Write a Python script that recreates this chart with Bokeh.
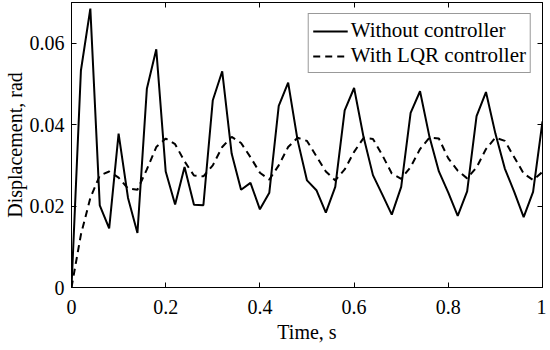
from bokeh.plotting import figure
from bokeh.models import LinearAxis, FixedTicker, NumeralTickFormatter, CustomJSTickFormatter, Range1d, Legend, LegendItem
from bokeh.embed import file_html
from bokeh.resources import INLINE

time_s = [round(0.02 * i, 2) for i in range(51)]
without_controller = [
    0.0, 0.0533, 0.0685, 0.0202, 0.0145, 0.0378, 0.0220, 0.0134, 0.0488, 0.0585,
    0.0285, 0.0204, 0.0296, 0.0203, 0.0202, 0.0460, 0.0531, 0.0329, 0.0240, 0.0257,
    0.0192, 0.0233, 0.0446, 0.0503, 0.0362, 0.0263, 0.0239, 0.0184, 0.0247, 0.0435,
    0.0490, 0.0370, 0.0276, 0.0228, 0.0179, 0.0247, 0.0429, 0.0482, 0.0370, 0.0285,
    0.0233, 0.0176, 0.0236, 0.0421, 0.0480, 0.0378, 0.0292, 0.0235, 0.0173, 0.0235,
    0.0408,
]
with_lqr = [
    0.0, 0.0130, 0.0220, 0.0275, 0.0285, 0.0270, 0.0243, 0.0240, 0.0290, 0.0345,
    0.0366, 0.0352, 0.0310, 0.0275, 0.0273, 0.0300, 0.0345, 0.0370, 0.0355, 0.0320,
    0.0282, 0.0265, 0.0300, 0.0345, 0.0368, 0.0360, 0.0322, 0.0285, 0.0263, 0.0290,
    0.0333, 0.0367, 0.0365, 0.0325, 0.0280, 0.0267, 0.0296, 0.0340, 0.0368, 0.0366,
    0.0317, 0.0287, 0.0268, 0.0295, 0.0340, 0.0368, 0.0360, 0.0320, 0.0280, 0.0264,
    0.0284,
]
x_ticks = [0, 0.2, 0.4, 0.6, 0.8, 1.0]
y_ticks = [0, 0.02, 0.04, 0.06]

FONT = "Liberation Serif"
FS = "20px"

p = figure(frame_width=471, frame_height=285, output_backend="svg", toolbar_location=None,
           x_range=Range1d(0, 1), y_range=Range1d(0, 0.07),
           x_axis_type=None, y_axis_type=None,
           min_border_left=0, min_border_right=4, min_border_top=2, min_border_bottom=0)
p.background_fill_color = "white"
p.border_fill_color = "white"
p.outline_line_color = "black"
p.outline_line_width = 1
p.xgrid.visible = False
p.ygrid.visible = False


def style(ax, ticks, fmt, show_labels):
    ax.ticker = FixedTicker(ticks=ticks)
    ax.major_tick_in = 5
    ax.major_tick_out = 0
    ax.minor_tick_line_color = None
    ax.axis_line_color = "black"
    ax.major_tick_line_color = "black"
    ax.major_label_text_font = FONT
    ax.major_label_text_color = "black"
    ax.axis_label_text_font = FONT
    ax.axis_label_text_font_style = "normal"
    ax.axis_label_text_color = "black"
    ax.axis_label_text_font_size = FS
    ax.major_label_text_font_size = FS
    if show_labels:
        ax.formatter = NumeralTickFormatter(format=fmt)
    else:
        ax.formatter = CustomJSTickFormatter(code="return '';")
        ax.major_label_standoff = 0


xb = LinearAxis(axis_label="Time, s")
style(xb, x_ticks, "0.[0]", True)
xb.major_label_standoff = 12
xb.axis_label_standoff = 4
p.add_layout(xb, "below")

yl = LinearAxis(axis_label="Displacement, rad")
style(yl, y_ticks, "0.[00]", True)
yl.major_label_standoff = 7
yl.axis_label_standoff = 1
p.add_layout(yl, "left")

xt = LinearAxis()
style(xt, x_ticks, "0.[0]", False)
p.add_layout(xt, "above")

yr = LinearAxis()
style(yr, y_ticks, "0.[00]", False)
p.add_layout(yr, "right")

r1 = p.line(time_s, without_controller, line_color="black", line_width=2)
r2 = p.line(time_s, with_lqr, line_color="black", line_width=2, line_dash="7 5")

legend = Legend(items=[LegendItem(label="Without controller", renderers=[r1]),
                       LegendItem(label="With LQR controller", renderers=[r2])],
                location="top_right",
                label_text_font=FONT, label_text_font_size="21px",
                label_text_font_style="normal", label_text_color="black",
                border_line_color="#333333", border_line_width=1,
                glyph_width=35, label_standoff=3, padding=4, spacing=0,
                label_height=20, glyph_height=20, margin=11,
                background_fill_alpha=1)
p.add_layout(legend, "center")

open("out.html", "w").write(file_html(p, INLINE))
